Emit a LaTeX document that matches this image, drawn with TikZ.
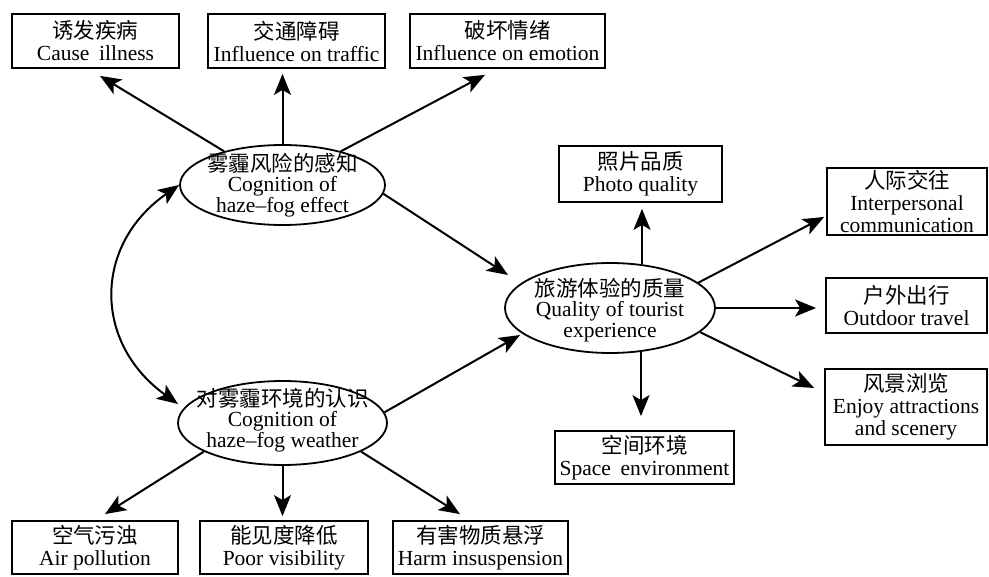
\documentclass[tikz,border=0pt]{standalone}
\usepackage{fontspec}
\setmainfont{Liberation Serif}
\newfontfamily\cjk{Noto Sans CJK SC}
\usetikzlibrary{arrows.meta,shapes.geometric}
\begin{document}
\begin{tikzpicture}[x=1pt,y=-1pt,
  bx/.style={draw, line width=1.8pt, inner sep=0pt, align=center, font=\fontsize{21.5}{22}\selectfont},
  ell/.style={draw, ellipse, line width=1.8pt, inner sep=0pt},
  etxt/.style={inner sep=0pt, align=center, font=\fontsize{21.5}{20.5}\selectfont},
  arr/.style={line width=2pt, -{Stealth[length=21pt,width=17pt,inset=5pt]}},
  dbl/.style={line width=2pt, {Stealth[length=21pt,width=17pt,inset=5pt]}-{Stealth[length=21pt,width=17pt,inset=5pt]}}
]
\useasboundingbox (0,0) rectangle (989,577);

% top boxes
\node[bx, minimum width=167pt, minimum height=54pt] (b1) at (95.5,41) {{\cjk 诱发疾病}\\Cause\hspace{0.45em}illness};
\node[bx, minimum width=177pt, minimum height=54pt] (b2) at (296.5,41) {{\cjk 交通障碍}\\Influence on traffic};
\node[bx, minimum width=195pt, minimum height=54pt] (b3) at (507.5,41) {{\cjk 破坏情绪}\\Influence on emotion};
% right side boxes
\node[bx, minimum width=163pt, minimum height=56pt] (b4) at (640.5,174) {{\cjk 照片品质}\\Photo quality};
\node[bx, minimum width=160pt, minimum height=67pt] (b5) at (907,201.5) {{\cjk 人际交往}\\Interpersonal\\communication};
\node[bx, minimum width=161pt, minimum height=55pt] (b6) at (906.5,305.5) {{\cjk 户外出行}\\Outdoor travel};
\node[bx, minimum width=162pt, minimum height=76pt] (b7) at (906,407) {{\cjk 风景浏览}\\Enjoy attractions\\and scenery};
\node[bx, minimum width=179pt, minimum height=53pt] (b8) at (644.5,457.5) {{\cjk 空间环境}\\Space\hspace{0.45em}environment};
% bottom boxes
\node[bx, minimum width=166pt, minimum height=53pt] (b9) at (95,547.5) {{\cjk 空气污浊}\\Air pollution};
\node[bx, minimum width=168pt, minimum height=53pt] (b10) at (284,547.5) {{\cjk 能见度降低}\\Poor visibility};
\node[bx, minimum width=175pt, minimum height=53pt] (b11) at (480.5,547.5) {{\cjk 有害物质悬浮}\\Harm insuspension};

% ellipses
\node[ell, minimum width=205pt, minimum height=80pt] (e1) at (282.5,185) {};
\node[etxt] (t1) at (282.5,185) {{\cjk 雾霾风险的感知}\\Cognition of\\haze–fog effect};
\node[ell, minimum width=209pt, minimum height=84pt] (e2) at (282.5,423) {};
\node[etxt] (t2) at (282.5,420) {{\cjk 对雾霾环境的认识}\\Cognition of\\haze–fog weather};
\node[ell, minimum width=210pt, minimum height=90pt] (e3) at (610,308) {};
\node[etxt] (t3) at (610,310) {{\cjk 旅游体验的质量}\\Quality of tourist\\experience};

% connectors from e1
\draw[arr] (e1.150) -- ([shift={(4.5,7)}]b1.south);
\draw[arr, shorten >=5pt] (e1.north) -- (e1.north |- b2.south);
\draw[arr] (e1.30) -- ([shift={(-22.5,6)}]b3.south);
\draw[arr] (e1.-5) -- ([shift={(-102,-33)}]e3.center);
% connectors from e2
\draw[arr] (e2.6) -- ([shift={(-90,27)}]e3.center);
\draw[arr] (e2.200) -- ([shift={(10,-6)}]b9.north);
\draw[arr, shorten >=4pt] (e2.south) -- (e2.south |- b10.north);
\draw[arr] (e2.-20) -- ([shift={(-20.5,-6)}]b11.north);
% connectors from e3
\draw[arr] ([shift={(32,2)}]e3.north) -- ([shift={(1.5,6)}]b4.south);
\draw[arr] (e3.16) -- ([shift={(-2,15.5)}]b5.west);
\draw[arr, shorten >=9pt] (e3.east) -- (e3.east -| b6.west);
\draw[arr] (e3.-15) -- ([shift={(-10,-19)}]b7.west);
\draw[arr] ([shift={(31,-2)}]e3.south) -- ([shift={(-3.5,-14)}]b8.north);
% double-headed curve
\draw[dbl] (e1.west) .. controls +(-86,60) and +(-85,-61) .. ([shift={(-104.5,-19)}]e2.center);
\end{tikzpicture}
\end{document}
